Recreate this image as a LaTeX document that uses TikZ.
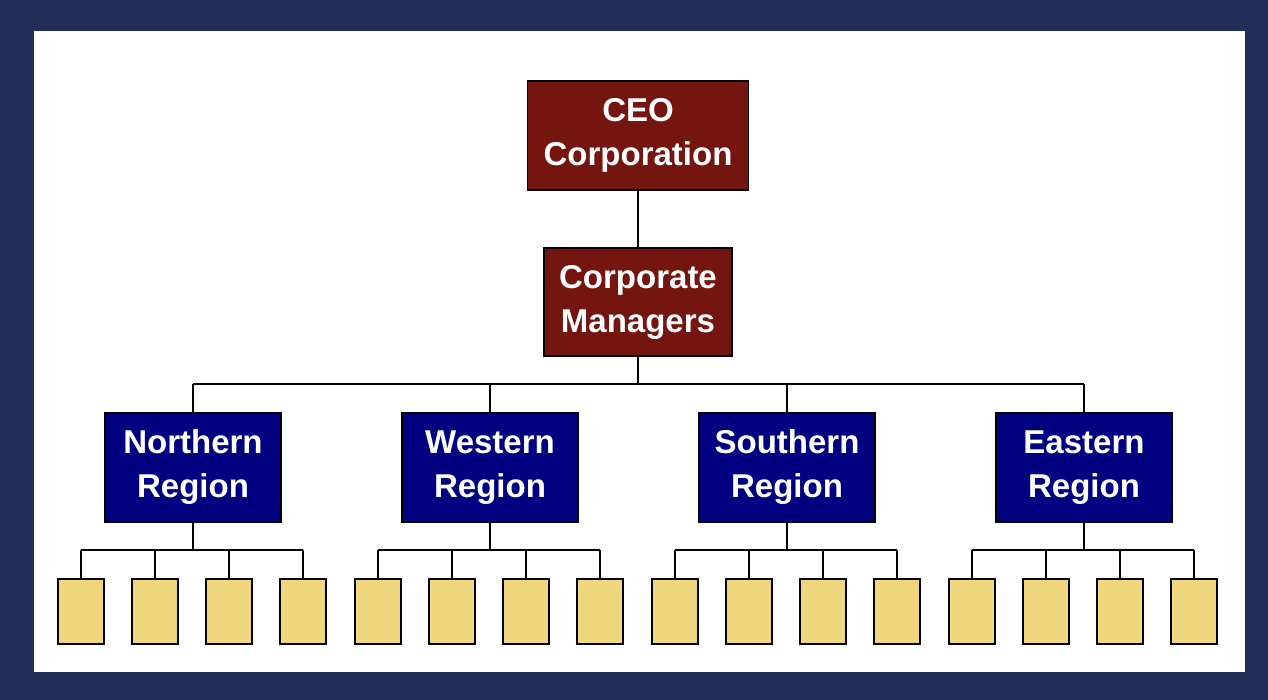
\documentclass[tikz,border=0pt]{standalone}
\usepackage{fontspec}
\setmainfont{Liberation Sans}
\definecolor{bgnavy}{RGB}{33,47,88}
\definecolor{execred}{RGB}{116,21,16}
\definecolor{regblue}{RGB}{0,0,128}
\definecolor{leafy}{RGB}{240,214,124}
\begin{document}
\begin{tikzpicture}[x=1pt,y=-1pt,
  box/.style={draw=black,line width=1.2pt,text=white,font=\fontsize{33}{44}\selectfont\bfseries,align=center,inner sep=0pt,execute at begin node={\vspace{5pt}}},
  exec/.style={box,fill=execred},
  reg/.style={box,fill=regblue,minimum width=176pt,minimum height=109pt},
  leaf/.style={draw=black,line width=1.2pt,fill=leafy,minimum width=46pt,minimum height=65pt,inner sep=0pt},
  ln/.style={line width=1.2pt}]
\fill[bgnavy] (0,0) rectangle (1268,700);
\fill[white] (34,31) rectangle (1245,672);
\useasboundingbox (0,0) rectangle (1268,700);
\node[exec,minimum width=221pt,minimum height=109pt] (ceo) at (638,135.5) {CEO\\Corporation};
\node[exec,minimum width=188pt,minimum height=108pt] (cm) at (638,302) {Corporate\\Managers};
\draw[ln] (ceo.south) -- (cm.north);
\coordinate (bus) at (638,384);
\draw[ln] (cm.south) -- (bus);
\foreach \n/\x/\t in {n/193/Northern,w/490/Western,s/787/Southern,e/1084/Eastern}{
  \node[reg] (\n) at (\x,467.5) {\t\\Region};
  \coordinate (\n top) at (\x,384);
  \draw[ln] (\n top) -- (\n.north);
  \coordinate (\n bus) at (\x,550);
  \draw[ln] (\n.south) -- (\n bus);
  \foreach \i/\d in {1/-112,2/-38,3/36,4/110}{
    \node[leaf] (\n\i) at (\x+\d,611.5) {};
    \coordinate (\n c\i) at (\x+\d,550);
    \draw[ln] (\n c\i) -- (\n\i.north);
  }
  \draw[ln] (\n c1) -- (\n c4);
}
\draw[ln] (ntop) -- (etop);
\end{tikzpicture}
\end{document}
